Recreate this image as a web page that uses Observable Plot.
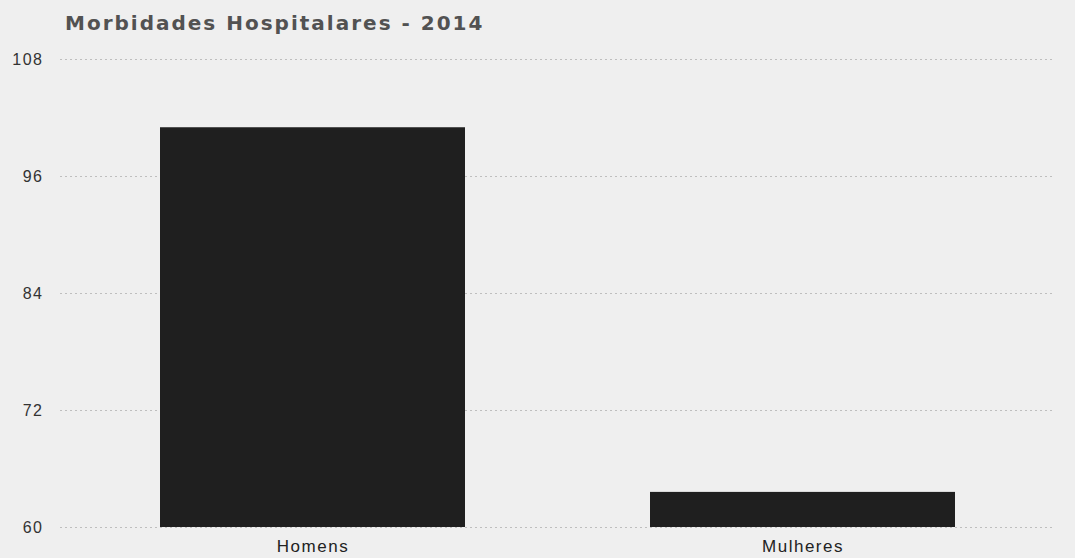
<!DOCTYPE html>
<html>
<head>
<meta charset="utf-8">
<script src="https://cdn.jsdelivr.net/npm/d3@7"></script>
<script src="https://cdn.jsdelivr.net/npm/@observablehq/plot@0.6"></script>
<style>
  html, body { margin: 0; padding: 0; background: #efefef; }
  #wrap { width: 1075px; height: 558px; position: relative; background: #efefef; overflow: hidden; }
  #title { position: absolute; left: 65px; top: 11px; font-family: "DejaVu Sans", sans-serif; font-size: 20px; font-weight: bold; color: #525252; letter-spacing: 2px; white-space: nowrap; }
  #chart { position: absolute; left: 0; top: 40px; }
  #chart text { letter-spacing: 1.5px; }
</style>
</head>
<body>
<div id="wrap">
  <div id="title">Morbidades Hospitalares - 2014</div>
  <div id="chart"></div>
</div>
<script>
const categories = ["Homens", "Mulheres"];
const values = [101, 63.6];
const yTicks = [60, 72, 84, 96, 108];

const data = categories.map((c, i) => ({category: c, value: values[i]}));

const plot = Plot.plot({
  width: 1075,
  height: 518,
  marginLeft: 60,
  marginRight: 20,
  marginTop: 19,
  marginBottom: 31,
  style: {background: "transparent", fontFamily: "'Liberation Sans', Arial, sans-serif"},
  x: {domain: categories, paddingInner: 0.378, paddingOuter: 0.204, label: null},
  y: {domain: [60, 108], label: null},
  marks: [
    Plot.gridY(yTicks, {stroke: "#aaa", strokeOpacity: 0.7, strokeDasharray: "2,3"}),
    Plot.barY(data, {x: "category", y1: 60, y2: "value", fill: "#1f1f1f"}),
    Plot.axisY(yTicks, {tickSize: 0, tickPadding: 17, fontSize: 16, fill: "#333", label: null}),
    Plot.axisX({tickSize: 0, tickPadding: 12, fontSize: 17, fill: "#222", label: null})
  ]
});
document.getElementById("chart").appendChild(plot);
</script>
</body>
</html>
